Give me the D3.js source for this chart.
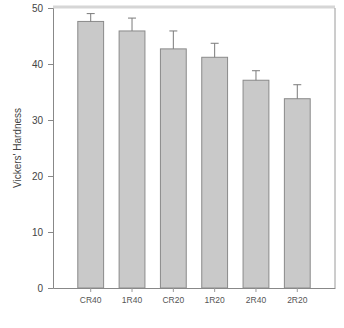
<!DOCTYPE html>
<html>
<head>
<meta charset="utf-8">
<script src="https://cdn.jsdelivr.net/npm/d3@7"></script>
<style>
  body { margin: 0; background: #fff; }
  svg { display: block; font-family: "Liberation Sans", Arial, sans-serif; }
</style>
</head>
<body>
<svg id="chart" width="344" height="328"></svg>
<script>
// sample groups and measured hardness
const groups = ["CR40", "1R40", "CR20", "1R20", "2R40", "2R20"];
const hardness = [47.6, 45.9, 42.7, 41.2, 37.1, 33.8];
const errors = [1.4, 2.3, 3.2, 2.5, 1.7, 2.5];
const yTicks = [0, 10, 20, 30, 40, 50];

const svg = d3.select("#chart");
const plotLeft = 53, plotRight = 335, plotTop = 8, plotBottom = 288;

let x = d3.scaleBand().domain(groups).range([plotLeft, plotRight])
    .paddingInner(0.375).paddingOuter(0.6);
let y = d3.scaleLinear().domain([0, 50]).range([plotBottom, plotTop]);

// frame: top and right edges
svg.append("line")
    .attr("x1", plotLeft).attr("x2", plotRight)
    .attr("y1", y(50) - 1).attr("y2", y(50) - 1)
    .attr("stroke", "#d6d6d6").attr("stroke-width", 3);
svg.append("line")
    .attr("x1", plotRight).attr("x2", plotRight)
    .attr("y1", y(50)).attr("y2", plotBottom)
    .attr("stroke", "#9a9a9a").attr("stroke-width", 1);

// bars
let data = groups.map((g, i) => ({ g: g, v: hardness[i], e: errors[i] }));
svg.selectAll("rect.bar").data(data).enter().append("rect")
    .attr("class", "bar")
    .attr("x", d => x(d.g))
    .attr("y", d => y(d.v))
    .attr("width", x.bandwidth())
    .attr("height", d => plotBottom - y(d.v))
    .attr("fill", "#c9c9c9")
    .attr("stroke", "#8a8a8a")
    .attr("stroke-width", 1);

// error bars (upper only)
let err = svg.selectAll("g.err").data(data).enter().append("g").attr("class", "err")
    .attr("stroke", "#7a7a7a").attr("stroke-width", 1);
err.append("line")
    .attr("x1", d => x(d.g) + x.bandwidth() / 2)
    .attr("x2", d => x(d.g) + x.bandwidth() / 2)
    .attr("y1", d => y(d.v)).attr("y2", d => y(d.v + d.e));
err.append("line")
    .attr("x1", d => x(d.g) + x.bandwidth() / 2 - 4)
    .attr("x2", d => x(d.g) + x.bandwidth() / 2 + 4)
    .attr("y1", d => y(d.v + d.e)).attr("y2", d => y(d.v + d.e));

// y axis
let yAxis = d3.axisLeft(y).tickValues(yTicks).tickSize(5).tickPadding(5).tickFormat(d3.format("d"));
let gy = svg.append("g").attr("transform", `translate(${plotLeft},0)`).call(yAxis);
gy.select(".domain").attr("stroke", "#888");
gy.selectAll(".tick line").attr("stroke", "#888");
gy.selectAll(".tick text").attr("fill", "#444").attr("font-size", 10);

// x axis
let xAxis = d3.axisBottom(x).tickSize(4).tickPadding(5).tickSizeOuter(0);
let gx = svg.append("g").attr("transform", `translate(0,${plotBottom})`).call(xAxis);
gx.select(".domain").attr("stroke", "#888");
gx.selectAll(".tick line").attr("stroke", "#999");
gx.selectAll(".tick text").attr("fill", "#555").attr("font-size", 8.5);

// y axis title
svg.append("text")
    .attr("transform", `translate(21,${(plotTop + plotBottom) / 2}) rotate(-90)`)
    .attr("text-anchor", "middle")
    .attr("font-size", 10)
    .attr("fill", "#444")
    .text("Vickers' Hardness");
</script>
</body>
</html>
